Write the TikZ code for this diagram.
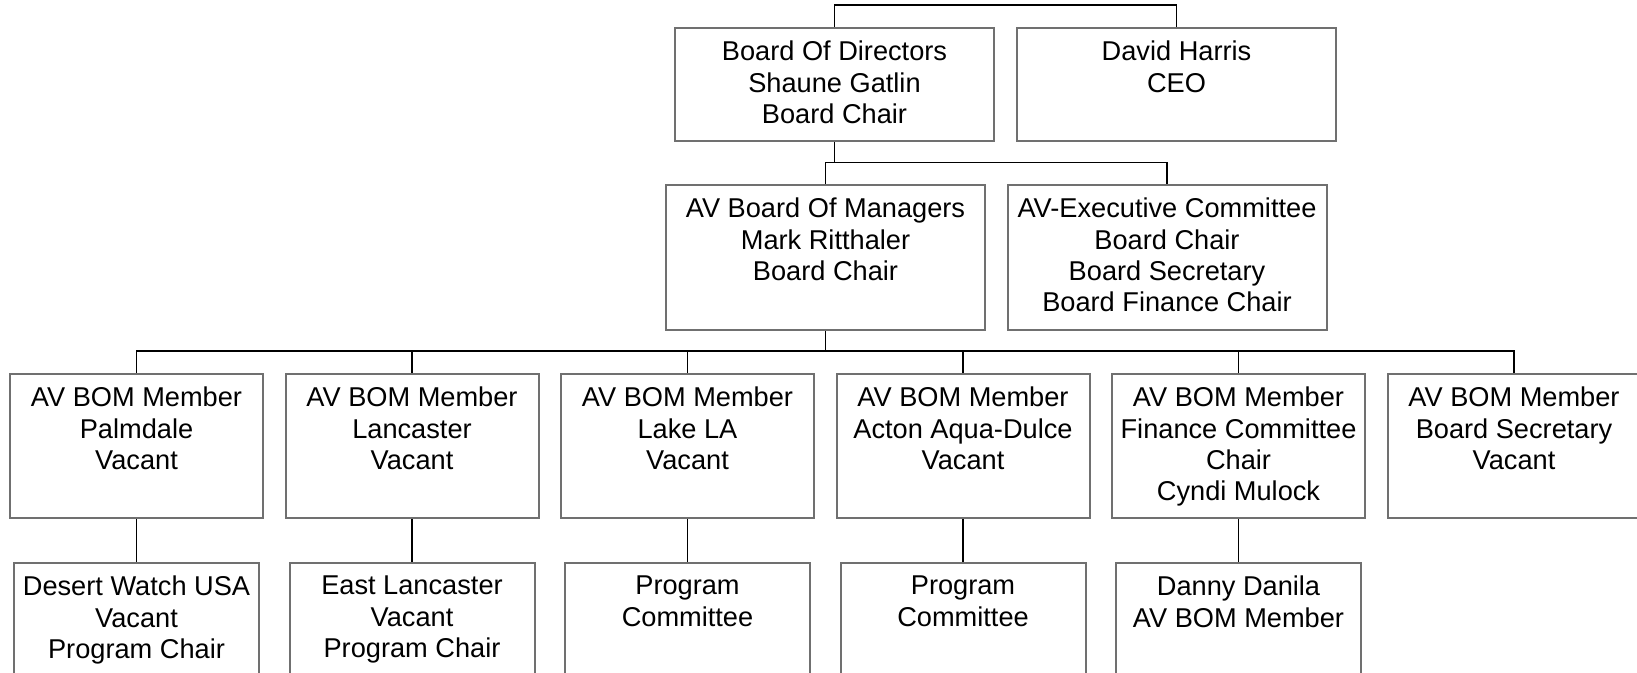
\documentclass[tikz,border=0pt]{standalone}
\usepackage{fontspec}
\setmainfont{Liberation Sans}
\definecolor{boxgray}{RGB}{112,112,112}
\newcommand{\boxtext}[3]{\parbox[t][#2][t]{#1}{\centering #3}}
\tikzset{
    orgbox/.style={draw=boxgray, line width=1pt, inner xsep=0pt, inner ysep=6.5pt,
        anchor=north, font=\fontsize{13.6}{15.7}\selectfont},
    link/.style={draw=black, line width=0.9pt}
}
\begin{document}
\begin{tikzpicture}[x=0.5pt, y=-0.5pt]
    \useasboundingbox (0,0) rectangle (1637,673);
    \clip (0,0) rectangle (1637,673);

    % Nodes
    \node[orgbox] (Board) at (834.5, 27) {\boxtext{159.5pt}{43.5pt}{Board Of Directors\\Shaune Gatlin\\Board Chair}};
    \node[orgbox] (CEO) at (1176.5, 27) {\boxtext{159.5pt}{43.5pt}{David Harris\\CEO}};
    \node[orgbox] (Managers) at (825.5, 184) {\boxtext{159.5pt}{59.5pt}{AV Board Of Managers\\Mark Ritthaler\\Board Chair}};
    \node[orgbox] (Exec) at (1167, 184) {\boxtext{159.5pt}{59.5pt}{AV-Executive Committee\\Board Chair\\Board Secretary\\Board Finance Chair}};

    \node[orgbox] (Palmdale) at (136.5, 373) {\boxtext{126.5pt}{59pt}{AV BOM Member\\Palmdale\\Vacant}};
    \node[orgbox] (Lancaster) at (412, 373) {\boxtext{126.5pt}{59pt}{AV BOM Member\\Lancaster\\Vacant}};
    \node[orgbox] (LakeLA) at (687.5, 373) {\boxtext{126.5pt}{59pt}{AV BOM Member\\Lake LA\\Vacant}};
    \node[orgbox] (Acton) at (963, 373) {\boxtext{126.5pt}{59pt}{AV BOM Member\\Acton Aqua-Dulce\\Vacant}};
    \node[orgbox] (Finance) at (1238.5, 373) {\boxtext{126.5pt}{59pt}{AV BOM Member\\Finance Committee\\Chair\\Cyndi Mulock}};
    \node[orgbox] (Secretary) at (1514, 373) {\boxtext{126.5pt}{59pt}{AV BOM Member\\Board Secretary\\Vacant}};

    \node[orgbox] (DesertWatch) at (136.5, 562) {\boxtext{122.5pt}{59pt}{Desert Watch USA\\Vacant\\Program Chair}};
    \node[orgbox] (EastLancaster) at (412, 562) {\boxtext{122.5pt}{59pt}{East Lancaster\\Vacant\\Program Chair}};
    \node[orgbox] (ProgLakeLA) at (687.5, 562) {\boxtext{122.5pt}{59pt}{Program\\Committee}};
    \node[orgbox] (ProgActon) at (963, 562) {\boxtext{122.5pt}{59pt}{Program\\Committee}};
    \node[orgbox] (Danila) at (1238.5, 562) {\boxtext{122.5pt}{59pt}{Danny Danila\\AV BOM Member}};

    \coordinate (TopBus) at (1000, 5);
    \coordinate (MidBus) at (1000, 162.5);
    \coordinate (LowBus) at (1000, 351);

    % Lines
    \draw[link] (Board.north) |- (TopBus) -| (CEO.north);
    \draw[link] (Board.south) -- (Board.south |- MidBus);
    \draw[link] (Managers.north) |- (Exec.north |- MidBus) -- (Exec.north);
    \draw[link] (Managers.south) -- (Managers.south |- LowBus);
    \draw[link] (Palmdale.north) |- (Secretary.north |- LowBus) -- (Secretary.north);
    \foreach \m in {Lancaster, LakeLA, Acton, Finance}
        \draw[link] (\m.north) -- (\m.north |- LowBus);
    \draw[link] (Palmdale) -- (DesertWatch);
    \draw[link] (Lancaster) -- (EastLancaster);
    \draw[link] (LakeLA) -- (ProgLakeLA);
    \draw[link] (Acton) -- (ProgActon);
    \draw[link] (Finance) -- (Danila);
\end{tikzpicture}
\end{document}
